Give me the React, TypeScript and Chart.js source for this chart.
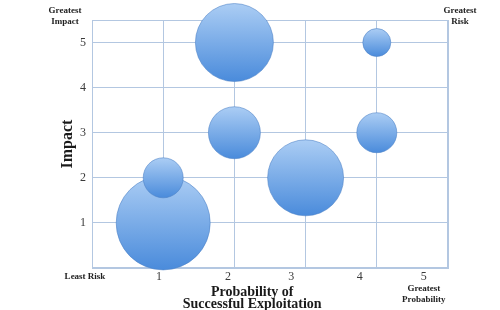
import { useEffect, useRef } from 'react';
import { Chart, registerables } from 'chart.js';

Chart.register(...registerables);

// Data
const probability = [1, 1, 2, 2, 3, 4, 4];
const impact = [1, 2, 5, 3, 2, 3, 5];
const bubbleRadius = [47, 20, 39, 26, 38, 20, 14];

const xTickLabels = ['1', '2', '3', '4', '5'];
const xTickLabelValues = [0.94, 1.91, 2.8, 3.76, 4.66];

const xTitleLines = ['Probability of', 'Successful Exploitation'];
const yTitleText = 'Impact';
const cornerTopLeft = ['Greatest', 'Impact'];
const cornerTopRight = ['Greatest', 'Risk'];
const cornerBottomLeft = ['Least Risk'];
const cornerBottomRight = ['Greatest', 'Probability'];

const SERIF = '"Liberation Serif", "DejaVu Serif", serif';
const GRID = '#b3c7e1';

const overlayPlugin = {
  id: 'overlay',
  beforeDatasetsDraw(chart: any) {
    const { ctx, chartArea } = chart;
    ctx.save();
    ctx.strokeStyle = GRID;
    ctx.lineWidth = 1;
    ctx.strokeRect(
      Math.round(chartArea.left) + 0.5,
      Math.round(chartArea.top) + 0.5,
      Math.round(chartArea.right - chartArea.left) - 1,
      Math.round(chartArea.bottom - chartArea.top) - 1
    );
    ctx.restore();
  },
  afterDraw(chart: any) {
    const { ctx, chartArea } = chart;
    const xs = chart.scales.x;
    ctx.save();
    ctx.textAlign = 'center';
    ctx.textBaseline = 'middle';

    // x tick labels
    ctx.fillStyle = '#3a3a3a';
    ctx.font = `12px ${SERIF}`;
    xTickLabels.forEach((t, i) => {
      ctx.fillText(t, xs.getPixelForValue(xTickLabelValues[i]), chartArea.bottom + 9);
    });

    // x title
    ctx.fillStyle = '#1a1a1a';
    ctx.font = `bold 14px ${SERIF}`;
    const xc = xs.getPixelForValue(2.25);
    ctx.fillText(xTitleLines[0], xc, chartArea.bottom + 24);
    ctx.fillText(xTitleLines[1], xc, chartArea.bottom + 36);

    // y title
    ctx.save();
    ctx.translate(68, (chartArea.top + chartArea.bottom) / 2);
    ctx.rotate(-Math.PI / 2);
    ctx.font = `bold 16px ${SERIF}`;
    ctx.fillText(yTitleText, 0, 0);
    ctx.restore();

    // corner labels
    ctx.font = `bold 9px ${SERIF}`;
    ctx.fillStyle = '#222';
    cornerTopLeft.forEach((t, i) => ctx.fillText(t, 65, 11 + i * 11));
    cornerTopRight.forEach((t, i) => ctx.fillText(t, 460, 11 + i * 11));
    cornerBottomLeft.forEach((t, i) => ctx.fillText(t, 85, chartArea.bottom + 9 + i * 11));
    cornerBottomRight.forEach((t, i) => ctx.fillText(t, xs.getPixelForValue(4.66), chartArea.bottom + 21 + i * 11));
    ctx.restore();
  },
};

export default function App() {
  const canvasRef = useRef<HTMLCanvasElement | null>(null);

  useEffect(() => {
    const canvas = canvasRef.current;
    if (!canvas) return;
    const data = probability.map((p, i) => ({ x: p, y: impact[i], r: bubbleRadius[i] }));
    const chart = new Chart(canvas, {
      type: 'bubble',
      data: {
        datasets: [
          {
            data,
            clip: false as any,
            backgroundColor: (c: any) => {
              const ch = c.chart;
              const raw = c.raw;
              if (!raw || !ch.chartArea || !ch.scales.y) return '#7aaee8';
              const y = ch.scales.y.getPixelForValue(raw.y);
              const g = ch.ctx.createLinearGradient(0, y - raw.r, 0, y + raw.r);
              g.addColorStop(0, '#abcdf4');
              g.addColorStop(1, '#4a8bdb');
              return g;
            },
            borderColor: 'rgba(74,128,196,0.55)',
            borderWidth: 1,
          } as any,
        ],
      },
      options: {
        animation: false,
        responsive: false,
        events: [],
        layout: { autoPadding: false, padding: { top: 20, right: 52, left: 0, bottom: 0 } },
        plugins: { legend: { display: false }, tooltip: { enabled: false } },
        scales: {
          x: {
            type: 'linear',
            min: 0,
            max: 5,
            ticks: { display: false, stepSize: 1 },
            grid: { color: GRID, drawTicks: false, lineWidth: 1 },
            border: { color: GRID },
            afterFit: (s: any) => {
              s.height = 42;
            },
          },
          y: {
            type: 'linear',
            min: 0,
            max: 5.5,
            ticks: {
              stepSize: 1,
              includeBounds: false,
              padding: 6,
              color: '#3a3a3a',
              font: { family: SERIF, size: 12 },
              callback: (v: any) => (v === 0 ? '' : String(v)),
            },
            grid: { color: GRID, drawTicks: false, lineWidth: 1 },
            border: { color: GRID },
            afterFit: (s: any) => {
              s.width = 92;
            },
          },
        },
      } as any,
      plugins: [overlayPlugin],
    });
    return () => chart.destroy();
  }, []);

  return (
    <div style={{ position: 'fixed', left: 0, top: 0, width: 500, height: 310, background: '#fff' }}>
      <canvas ref={canvasRef} width={500} height={310} style={{ display: 'block' }} />
    </div>
  );
}
